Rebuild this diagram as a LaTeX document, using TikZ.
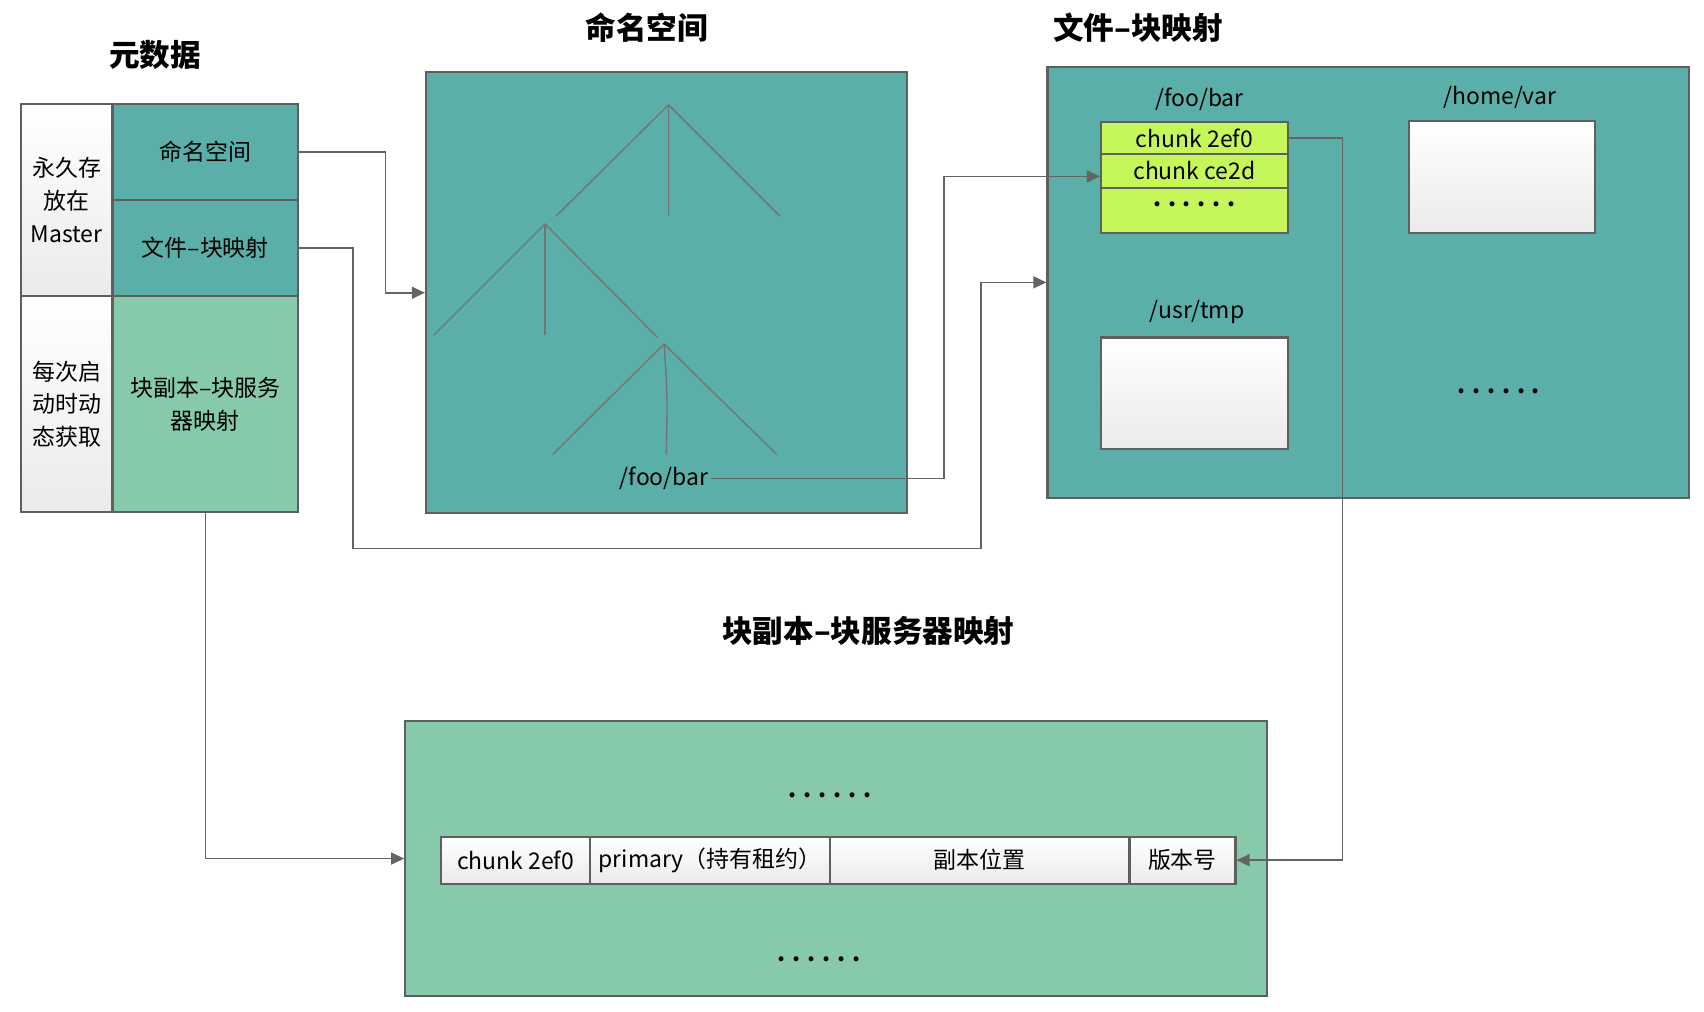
\documentclass[tikz,border=0pt]{standalone}
\usepackage{fontspec}
\setmainfont{Noto Sans CJK SC}
\usetikzlibrary{arrows.meta}
\definecolor{tealfill}{RGB}{90,175,168}
\definecolor{mintfill}{RGB}{134,202,170}
\definecolor{limefill}{RGB}{197,247,90}
\definecolor{edgegray}{RGB}{95,95,95}
\definecolor{linkgray}{RGB}{100,100,100}
\newcommand{\sixdots}{{\bfseries.\hspace{0.3em}.\hspace{0.3em}.\hspace{0.3em}.\hspace{0.3em}.\hspace{0.3em}.}}
\tikzset{
  box/.style={draw=edgegray, line width=1pt, inner sep=0pt, align=center,
    font=\fontsize{10.5}{15}\selectfont},
  tealbox/.style={box, fill=tealfill},
  mintbox/.style={box, fill=mintfill},
  limebox/.style={box, fill=limefill},
  graybox/.style={box, top color=white, bottom color=black!8},
  link/.style={draw=linkgray, line width=0.75pt, -{Triangle[length=6pt,width=5.5pt]}},
  treeline/.style={draw=black!55, line width=0.6pt},
  title/.style={font=\fontsize{14}{16}\selectfont\bfseries},
  label/.style={font=\fontsize{10.5}{12}\selectfont, inner sep=1pt},
}
\begin{document}
\begin{tikzpicture}[x=0.5pt,y=-0.5pt]
    \useasboundingbox (0,0) rectangle (1560,926);

    % titles
    \node[title] (tmeta) at (142,50) {元数据};
    \node[title] (tns) at (592,25) {命名空间};
    \node[title] (tfc) at (1042,25) {文件–块映射};
    \node[title] (trs) at (795,578) {块副本–块服务器映射};

    % metadata table
    \node[graybox, minimum width=42pt, minimum height=88pt] (perm) at (61,183) {永久存\\放在\\Master};
    \node[graybox, minimum width=42pt, minimum height=99pt] (dyn) at (61,370) {每次启\\动时动\\态获取};
    \node[tealbox, minimum width=85pt, minimum height=44pt] (nscell) at (188,139) {命名空间};
    \node[tealbox, minimum width=85pt, minimum height=44pt] (fccell) at (188,227) {文件–块映射};
    \node[mintbox, minimum width=85pt, minimum height=99pt] (rscell) at (188,370) {块副本–块服务\\器映射};

    % namespace tree
    \node[tealbox, minimum width=220pt, minimum height=202pt] (ns) at (610,268) {};
    \draw[treeline] (612,96) -- (509,198);
    \draw[treeline] (612,96) -- (612,198);
    \draw[treeline] (612,96) -- (714,198);
    \draw[treeline] (499,205) -- (397,307);
    \draw[treeline] (499,205) -- (499,307);
    \draw[treeline] (499,205) -- (602,309);
    \draw[treeline] (608,315) -- (506,416);
    \draw[treeline] (608,315) .. controls (611,360) .. (610,416);
    \draw[treeline] (608,315) -- (711,416);
    \node[label] (fb) at (608,438) {/foo/bar};

    % file-chunk mapping
    \node[tealbox, minimum width=293.5pt, minimum height=197.5pt] (fc) at (1252.5,258.5) {};
    \node[label] (lfoo) at (1098,91) {/foo/bar};
    \node[limebox, minimum width=85.5pt, minimum height=14.5pt] (c1) at (1093.5,126.5) {chunk 2ef0};
    \node[limebox, minimum width=85.5pt, minimum height=15.5pt] (c2) at (1093.5,156.5) {chunk ce2d};
    \node[limebox, minimum width=85.5pt, minimum height=20.5pt, text depth=6pt] (c3) at (1093.5,192.5) {\sixdots};
    \node[label] (lhome) at (1373,89) {/home/var};
    \node[graybox, minimum width=85pt, minimum height=51pt] (home) at (1375,162) {};
    \node[label] (lusr) at (1096,286) {/usr/tmp};
    \node[graybox, minimum width=85.5pt, minimum height=51pt] (usr) at (1093.5,360) {};
    \node[label] (fcmore) at (1372,358) {\sixdots};

    % replica mapping
    \node[mintbox, minimum width=394.5pt, minimum height=126pt] (bt) at (765.5,786) {};
    \node[label] (btup) at (760,728) {\sixdots};
    \node[label] (btdn) at (750,878) {\sixdots};
    \node[graybox, minimum width=68pt, minimum height=21.5pt] (r1) at (472,787.5) {chunk 2ef0};
    \node[graybox, minimum width=110pt, minimum height=21.5pt] (r2) at (650,787.5) {primary（持有租约）};
    \node[graybox, minimum width=137pt, minimum height=21.5pt] (r3) at (897,787.5) {副本位置};
    \node[graybox, minimum width=48.5pt, minimum height=21.5pt] (r4) at (1082.5,787.5) {版本号};

    % connectors
    \coordinate (k1) at (864,0);
    \coordinate (k2) at (1229,0);
    \coordinate (k3) at (898,502);
    \draw[link] (nscell.east) -- ++(79,0) |- (ns.west);
    \draw[link] (fccell.east) -- (323,227) |- (k3) |- (fc.west);
    \draw[link] (fb.east) -- (fb.east -| k1) |- ([yshift=-2.5pt]c2.west);
    \draw[link] (rscell.south) |- (bt.west);
    \draw[link] (c1.east) -- (c1.east -| k2) |- (r4.east);
\end{tikzpicture}
\end{document}
